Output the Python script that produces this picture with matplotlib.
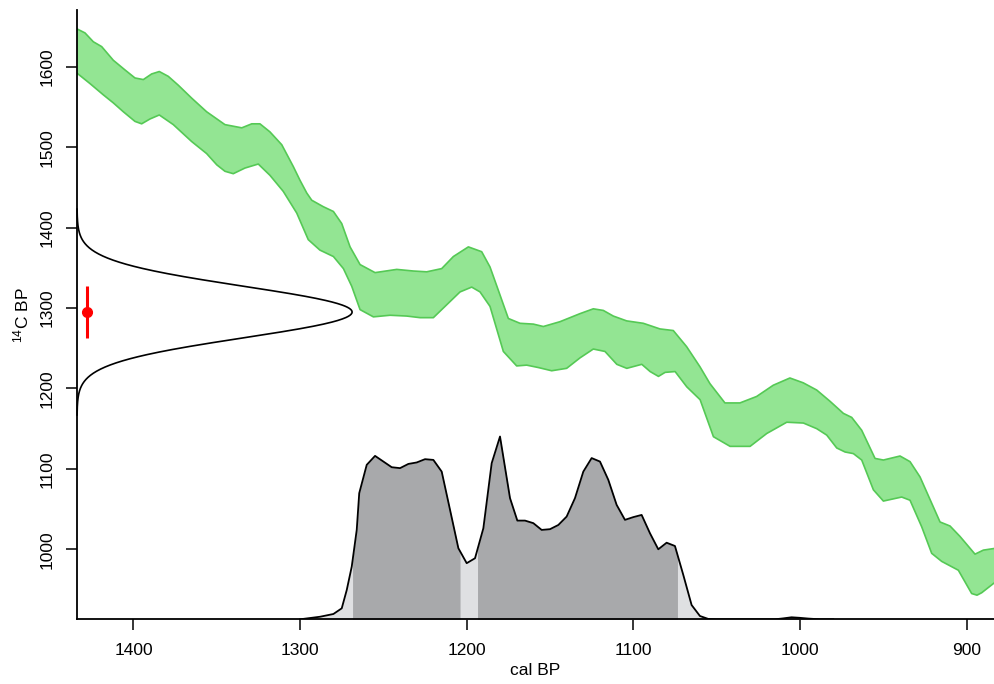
import numpy as np
import matplotlib
matplotlib.use("Agg")
import matplotlib.pyplot as plt

plt.rcParams["font.family"] = ["Liberation Sans", "DejaVu Sans"]
plt.rcParams["mathtext.fontset"] = "custom"
plt.rcParams["mathtext.rm"] = "Liberation Sans"
plt.rcParams["mathtext.it"] = "Liberation Sans:italic"

# --- radiocarbon date (14C BP, 1 sigma) ---
date_c14 = 1295
date_err = 32

# --- calibration curve envelope: upper edge ---
cc_upper_cal = [1433.9, 1429.1, 1424.1, 1419.1, 1412.1, 1405.1, 1399.1, 1394.1, 1389.1,
                1384.5, 1379.1, 1373.1, 1365.1, 1356.1, 1345.1, 1335.0, 1329.0, 1324.1,
                1318.1, 1311.0, 1304.1, 1300.1, 1296.0, 1293.0, 1286.1, 1280.0, 1275.0,
                1270.0, 1264.0, 1255.0, 1242.0, 1232.0, 1224.0, 1215.0, 1208.0, 1199.0,
                1191.0, 1186.0, 1181.0, 1175.0, 1168.0, 1160.0, 1154.0, 1144.0, 1132.0,
                1124.0, 1118.0, 1112.0, 1104.0, 1094.0, 1084.0, 1076.0, 1068.0, 1060.0,
                1054.0, 1045.0, 1036.0, 1026.0, 1016.0, 1006.0, 998.0, 989.9, 981.9,
                973.9, 968.9, 962.9, 954.9, 949.9, 939.9, 933.9, 927.9, 915.9, 909.9,
                903.9, 894.9, 889.9, 883.5, 880.0]
cc_upper_c14 = [1647, 1642, 1631, 1625, 1608, 1596, 1586, 1584, 1591,
                1594, 1588, 1577, 1561, 1544, 1528, 1524, 1529, 1529,
                1519, 1503, 1476, 1459, 1443, 1434, 1426, 1420, 1405,
                1376, 1354, 1344, 1348, 1346, 1345, 1349, 1364, 1376,
                1370, 1351, 1322, 1287, 1281, 1280, 1277, 1283, 1293,
                1299, 1297, 1290, 1284, 1281, 1274, 1272, 1252, 1227,
                1206, 1182, 1182, 1190, 1204, 1213, 1207, 1198, 1184,
                1169, 1164, 1148, 1113, 1111, 1116, 1109, 1090, 1034, 1029,
                1016, 994, 999, 1001, 1002]

# --- calibration curve envelope: lower edge ---
cc_lower_cal = [1433.9, 1426.1, 1418.1, 1412.1, 1406.1, 1399.1, 1395.1, 1390.1, 1384.5,
                1376.1, 1365.1, 1356.1, 1350.0, 1345.1, 1340.1, 1333.1, 1325.1, 1318.1,
                1310.1, 1302.0, 1295.1, 1288.1, 1280.0, 1274.0, 1269.0, 1264.0, 1256.0,
                1246.0, 1236.0, 1228.0, 1220.0, 1212.0, 1204.0, 1197.0, 1192.0, 1186.0,
                1178.0, 1170.0, 1164.0, 1157.0, 1149.0, 1140.0, 1132.0, 1124.0, 1117.0,
                1109.9, 1103.9, 1094.9, 1089.9, 1084.9, 1080.9, 1074.9, 1067.9, 1059.9,
                1051.9, 1041.9, 1029.9, 1019.9, 1007.9, 997.9, 989.9, 983.9, 977.9,
                972.9, 967.9, 962.9, 955.9, 949.9, 938.9, 933.9, 926.9, 920.9, 914.9,
                904.9, 896.9, 893.7, 890.9, 883.5, 880.0]
cc_lower_c14 = [1592, 1579, 1565, 1555, 1544, 1532, 1529, 1535, 1540,
                1528, 1507, 1492, 1478, 1470, 1467, 1474, 1479, 1465,
                1445, 1418, 1385, 1372, 1364, 1349, 1327, 1298, 1289,
                1291, 1290, 1288, 1288, 1304, 1320, 1326, 1320, 1302,
                1246, 1228, 1229, 1226, 1222, 1225, 1238, 1249, 1246,
                1230, 1225, 1230, 1221, 1215, 1220, 1221, 1202, 1186,
                1140, 1128, 1128, 1144, 1158, 1157, 1150, 1142, 1126,
                1121, 1119, 1111, 1074, 1060, 1065, 1061, 1028, 995, 985,
                974, 945, 943, 946, 958, 960]

# --- calibrated probability (relative to maximum), cal BP ---
calib_cal = [1300, 1288, 1280, 1275, 1272, 1269, 1266, 1264.5, 1260, 1255, 1250, 1245,
             1240, 1235, 1230, 1225, 1220, 1215, 1210, 1205, 1200, 1195, 1190, 1185,
             1180, 1174, 1169.6, 1165, 1160, 1155, 1150, 1145, 1140, 1135, 1130, 1125,
             1120, 1115, 1110, 1105, 1100, 1095, 1090, 1085, 1080, 1075, 1070, 1065,
             1060, 1055, 1050, 1015, 1010, 1005, 1000, 995, 988, 980]
calib_prob = [0.0, 0.014, 0.029, 0.060, 0.160, 0.288, 0.489, 0.690, 0.845, 0.894, 0.863, 0.832,
              0.827, 0.850, 0.858, 0.876, 0.872, 0.808, 0.599, 0.389, 0.307, 0.334, 0.498, 0.854,
              1.000, 0.663, 0.540, 0.540, 0.526, 0.489, 0.493, 0.516, 0.562, 0.663, 0.808, 0.882,
              0.863, 0.763, 0.626, 0.544, 0.559, 0.571, 0.471, 0.383, 0.419, 0.401, 0.243, 0.078,
              0.018, 0.002, 0.0, 0.0, 0.005, 0.011, 0.008, 0.004, 0.0, 0.0]

# 95% highest posterior density ranges (cal BP, older -> younger)
hpd_ranges = [(1268.5, 1204.0), (1193.5, 1073.5)]

x_ticks = [1400, 1300, 1200, 1100, 1000, 900]
y_ticks = [1000, 1100, 1200, 1300, 1400, 1500, 1600]

xlim = (1433.9, 883.5)
ylim = (913.0, 1670.5)

fig = plt.figure(figsize=(9.94, 6.84), dpi=100)
ax = fig.add_axes([77 / 994, (684 - 619.3) / 684, (994 - 77) / 994, (619.3 - 10) / 684])
ax.set_xlim(*xlim)
ax.set_ylim(*ylim)

# calibration curve band
poly_x = list(cc_upper_cal) + list(cc_lower_cal[::-1])
poly_y = list(cc_upper_c14) + list(cc_lower_c14[::-1])
ax.fill(poly_x, poly_y, facecolor="#93e593", edgecolor="none", zorder=2)
ax.plot(cc_upper_cal, cc_upper_c14, color="#55c955", lw=1.2, zorder=3,
        solid_joinstyle="round")
ax.plot(cc_lower_cal, cc_lower_c14, color="#55c955", lw=1.2, zorder=3,
        solid_joinstyle="round")

# date distribution along the 14C axis
xrange_ = xlim[0] - xlim[1]
yrange_ = ylim[1] - ylim[0]
ys = np.linspace(date_c14 - 4 * date_err, date_c14 + 4 * date_err, 400)
dens = np.exp(-0.5 * ((ys - date_c14) / date_err) ** 2)
dens = dens / dens.max()
ax.plot(xlim[0] - dens * 0.3 * xrange_, ys, color="black", lw=1.2, zorder=4,
        clip_on=False)

# calibrated distribution on the cal BP axis
cal = np.array(calib_cal, dtype=float)
prob = np.array(calib_prob, dtype=float)
height = ylim[0] + prob * 0.3 * yrange_
ax.fill_between(cal, ylim[0], height, color="#dfe0e2", lw=0, zorder=2)
for old, young in hpd_ranges:
    sel = (cal <= old) & (cal >= young)
    xs = np.concatenate([[old], cal[sel], [young]])
    hs = np.interp(xs, cal[::-1], height[::-1])
    ax.fill_between(xs, ylim[0], hs, color="#a8a9ab", lw=0, zorder=2)
ax.plot(cal, height, color="black", lw=1.3, zorder=4)

# the measured date with its error bar
x_dot = xlim[0] - 0.0105 * xrange_
ax.plot([x_dot, x_dot], [date_c14 - date_err, date_c14 + date_err], color="red", lw=2.2,
        zorder=5, solid_capstyle="butt")
ax.plot([x_dot], [date_c14], "o", color="red", ms=7, zorder=6)

# axes
for side in ("top", "right"):
    ax.spines[side].set_visible(False)
for side in ("left", "bottom"):
    ax.spines[side].set_linewidth(1.3)
    ax.spines[side].set_zorder(5)

ax.set_xticks(x_ticks)
ax.set_yticks(y_ticks)
ax.set_xticklabels([str(v) for v in x_ticks])
ax.set_yticklabels([str(v) for v in y_ticks], rotation=90, va="center")
ax.tick_params(axis="both", direction="out", length=8, width=1.1, labelsize=12.5,
               colors="black")
ax.tick_params(axis="x", pad=9)
ax.tick_params(axis="y", pad=8)

ax.set_xlabel("cal BP", fontsize=12.5, labelpad=4)
ax.set_ylabel(r"$^{14}$C BP", fontsize=12.5, labelpad=6)

fig.savefig("out.png", dpi=100)
